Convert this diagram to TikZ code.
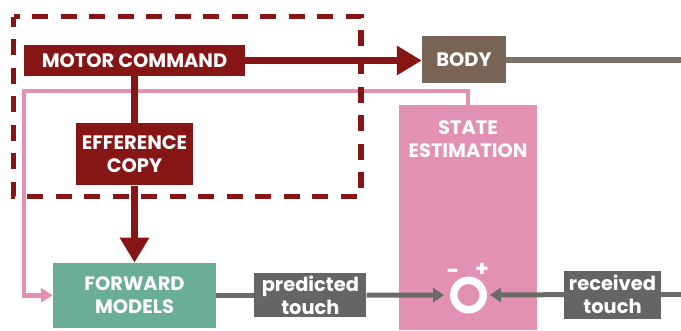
\documentclass[tikz,border=0pt]{standalone}
\usepackage{fontspec}
\setmainfont{Poppins}
\usetikzlibrary{positioning,arrows.meta}
\definecolor{motorred}{RGB}{134,22,22}
\definecolor{bodybrown}{RGB}{122,100,85}
\definecolor{sepink}{RGB}{226,145,178}
\definecolor{fwdteal}{RGB}{106,174,151}
\definecolor{touchgray}{RGB}{101,101,101}
\definecolor{wiregray}{RGB}{106,106,106}
\definecolor{outbrown}{RGB}{125,113,105}
\newcommand{\lbl}{\fontsize{19.5}{23}\selectfont\bfseries}

\begin{document}
\begin{tikzpicture}[x=1bp,y=-1bp,
  box/.style={inner sep=0pt,text=white,align=center,font=\lbl},
  redwire/.style={draw=motorred,line width=7bp},
  graywire/.style={draw=wiregray,line width=5bp},
  pinkwire/.style={draw=sepink,line width=4.5bp},
  sign/.style={inner sep=0pt,text=white,font=\fontsize{22}{22}\selectfont\bfseries}]
\useasboundingbox (0,0) rectangle (681,330);
\node[box,fill=motorred,minimum width=221bp,minimum height=31bp] (mc) at (134.5,60.5) {MOTOR COMMAND};
\node[box,fill=motorred,minimum width=117bp,minimum height=62bp,below=47bp of mc] (ec) {EFFERENCE\\COPY};
\node[box,fill=fwdteal,minimum width=163bp,minimum height=65bp,below=77bp of ec] (fm) {FORWARD\\MODELS};
\node[box,fill=bodybrown,minimum width=84bp,minimum height=47bp] (body) at (464,59.5) {BODY};
\node[box,fill=sepink,minimum width=138bp,minimum height=225bp,
  label={[box,anchor=north,yshift=-16bp]north:STATE\\ESTIMATION}] (se) at (468,217.5) {};
\node[box,fill=touchgray,minimum width=112bp,minimum height=44bp,right=38bp of fm] (pt) {predicted\\touch};
\node[box,fill=touchgray,minimum width=97bp,minimum height=48bp] (rt) at (612.5,294.5) {received\\touch};
\node[circle,draw=white,line width=7.5bp,minimum size=29.4bp,inner sep=0pt] (sum) at (468.5,295) {};
\node[sign] (minus) at ([shift={(-15.5,-21)}]sum.center) {-};
\node[sign] (plus) at ([shift={(13.5,-25.5)}]sum.center) {+};
\coordinate (bodyout) at (681,59.5);
\coordinate (rtin) at (681,294.5);
\coordinate (loopcorner) at (24,91);
% state estimation feeds back to the forward models
\draw[pinkwire,-{Triangle[length=12bp,width=14bp]}] (se.north) |- (loopcorner) |- (fm.west);
\draw[draw=motorred,line width=5.5bp,dash pattern=on 16bp off 12.5bp,dash phase=10bp]
  (13.5,16.5) -- (361,16.5) -- (361,196.5) -- (13.5,196.5) -- cycle;
\draw[redwire] (mc) -- (ec);
\draw[redwire,-{Triangle[length=25bp,width=28bp]}] (ec) -- (fm);
\draw[redwire,-{Triangle[length=25bp,width=28bp]}] (mc.east) -- (mc.east -| body.west);
\draw[draw=outbrown,line width=6bp] (body) -- (bodyout);
% comparison of predicted and received touch
\draw[graywire] (fm) -- (pt);
\draw[graywire,-{Triangle[length=11bp,width=14bp]},shorten >=6bp] (pt) -- (sum);
\draw[graywire] (rtin) -- (rt);
\draw[graywire,-{Triangle[length=11bp,width=14bp]},shorten >=3bp] (rt) -- (sum);
\end{tikzpicture}
\end{document}
